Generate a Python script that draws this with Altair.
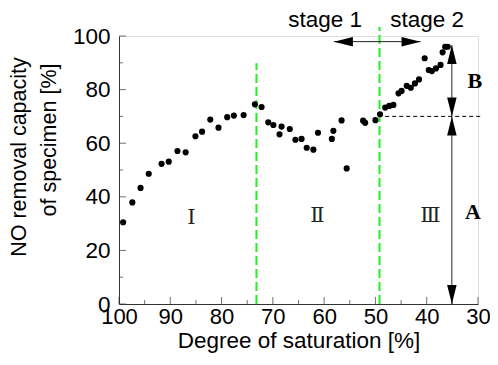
import altair as alt
import pandas as pd

# measured points
sat = [99.2, 97.4, 95.8, 94.2, 91.7, 90.3, 88.6, 87.0, 85.1, 83.8, 82.2, 80.6, 78.9, 77.6, 75.7,
       73.5, 72.2, 70.9, 69.9, 68.3, 68.7, 66.7, 65.6, 64.4, 63.4, 62.1, 61.2, 58.5, 58.2, 56.6,
       55.6, 52.4, 52.0, 50.0, 49.1, 48.1, 47.3, 46.5, 45.5, 44.9, 43.9, 43.1, 42.3, 41.5, 40.4,
       39.6, 39.0, 38.2, 37.3, 36.9, 36.4, 35.9]
no_removal = [30.5, 37.9, 43.3, 48.6, 52.3, 53.1, 57.1, 56.6, 62.6, 64.3, 68.8, 65.8, 69.7, 70.3, 70.5,
              74.5, 73.5, 67.8, 66.8, 66.2, 63.3, 65.3, 61.3, 61.6, 58.3, 57.6, 63.9, 61.6, 64.6, 68.5,
              50.6, 68.4, 67.6, 68.6, 70.8, 73.3, 73.9, 74.3, 78.6, 79.5, 81.4, 80.7, 82.3, 83.8, 91.7,
              87.3, 86.9, 87.9, 89.2, 93.9, 96.0, 96.0]

x_major = [100, 90, 80, 70, 60, 50, 40, 30]
x_minor = [95, 85, 75, 65, 55, 45, 35]
y_major = [0, 20, 40, 60, 80, 100]
y_minor = [10, 30, 50, 70, 90]

green_x = [73.2, 49.2]
green_top = [89.8, 103.4]

ref_level = [70]
ref_from = [48.1]
ref_to = [29.4]

arrow_x = [35.1]
arrow_bottom = [0]
arrow_top = [96.6]
stage_arrow_y = [97.9]
stage_arrow_from = [58.1]
stage_arrow_to = [41.2]

head_x = [35.1, 35.1, 35.1, 35.1, 58.1, 41.2]
head_y = [96.6, 70, 70, 0, 97.9, 97.9]
head_dir = ["up", "down", "up", "down", "left", "right"]

roman_txt = ["Ⅰ", "Ⅱ", "Ⅲ"]
roman_x = [85.9, 61.3, 39.3]
roman_y = [32.0, 32.8, 32.8]

ab_txt = ["A", "B"]
ab_x = [31.0, 30.6]
ab_y = [34.4, 83.2]

stage_txt = ["stage 1", "stage 2"]
stage_x = [59.8, 39.9]
stage_y = [103.2, 103.2]

FONT = "Liberation Sans"
xs = alt.Scale(domain=[100, 30], nice=False)
ys = alt.Scale(domain=[0, 100], nice=False)
xax = alt.Axis(values=x_major, tickSize=0, labelFontSize=22, labelFont=FONT, labelColor="black",
               labelPadding=2, domainColor="#333", grid=False, title="Degree of saturation [%]",
               titleFont=FONT, titleFontSize=22.5, titleFontWeight="normal", titleColor="black",
               titlePadding=2, labelFlush=False, labelOverlap=False)
yax = alt.Axis(values=y_major, tickSize=0, labelFontSize=22.5, labelFont=FONT, labelColor="black",
               labelPadding=9, domainColor="#333", grid=False, title=None, labelOverlap=False)


def X(f):
    return alt.X(f, type="quantitative", scale=xs, axis=xax)


def Y(f):
    return alt.Y(f, type="quantitative", scale=ys, axis=yax)


pts = alt.Chart(pd.DataFrame({"x": sat, "y": no_removal})).mark_circle(
    size=38, color="black", opacity=1).encode(x=X("x"), y=Y("y"))

green = alt.Chart(pd.DataFrame({"x": green_x, "y": [0, 0], "y2": green_top})).mark_rule(
    color="#22ee22", strokeWidth=2, strokeDash=[9, 4]).encode(x=X("x"), y=Y("y"), y2="y2")

refline = alt.Chart(pd.DataFrame({"x": ref_from, "x2": ref_to, "y": ref_level})).mark_rule(
    color="black", strokeWidth=1, strokeDash=[4, 3]).encode(x=X("x"), x2="x2", y=Y("y"))

vline = alt.Chart(pd.DataFrame({"x": arrow_x, "y": arrow_bottom, "y2": arrow_top})).mark_rule(
    color="#222", strokeWidth=1).encode(x=X("x"), y=Y("y"), y2="y2")

hline = alt.Chart(pd.DataFrame({"x": stage_arrow_from, "x2": stage_arrow_to, "y": stage_arrow_y})).mark_rule(
    color="#222", strokeWidth=1).encode(x=X("x"), x2="x2", y=Y("y"))

paths = {
    "up": "M0,0L0.25,1L-0.25,1Z",
    "down": "M0,0L0.25,-1L-0.25,-1Z",
    "left": "M0,0L1,0.25L1,-0.25Z",
    "right": "M0,0L-1,0.25L-1,-0.25Z",
}
heads = alt.Chart(pd.DataFrame({"x": head_x, "y": head_y, "d": head_dir})).mark_point(
    filled=True, size=1444, color="black", opacity=1, strokeWidth=0).encode(
    x=X("x"), y=Y("y"),
    shape=alt.Shape("d:N", scale=alt.Scale(domain=list(paths.keys()), range=list(paths.values())),
                    legend=None))

xt_major = alt.Chart(pd.DataFrame({"x": x_major})).mark_tick(
    orient="vertical", size=7, thickness=1, color="#333", yOffset=-3.5).encode(
    x=X("x"), y=alt.YDatum(0, scale=ys, axis=yax))
xt_minor = alt.Chart(pd.DataFrame({"x": x_minor})).mark_tick(
    orient="vertical", size=4, thickness=1, color="#333", yOffset=-2).encode(
    x=X("x"), y=alt.YDatum(0, scale=ys, axis=yax))
yt_major = alt.Chart(pd.DataFrame({"y": y_major})).mark_tick(
    orient="horizontal", size=7, thickness=1, color="#333", xOffset=3.5).encode(
    y=Y("y"), x=alt.XDatum(100, scale=xs, axis=xax))
yt_minor = alt.Chart(pd.DataFrame({"y": y_minor})).mark_tick(
    orient="horizontal", size=4, thickness=1, color="#333", xOffset=2).encode(
    y=Y("y"), x=alt.XDatum(100, scale=xs, axis=xax))

roman = alt.Chart(pd.DataFrame({"x": roman_x, "y": roman_y, "t": roman_txt})).mark_text(
    font="DejaVu Serif", fontSize=21, color="#222", baseline="middle").encode(
    x=X("x"), y=Y("y"), text="t:N")

ab = alt.Chart(pd.DataFrame({"x": ab_x, "y": ab_y, "t": ab_txt})).mark_text(
    font="Liberation Serif", fontSize=22, fontWeight="bold", color="black", baseline="middle").encode(
    x=X("x"), y=Y("y"), text="t:N")

stages = alt.Chart(pd.DataFrame({"x": stage_x, "y": stage_y, "t": stage_txt})).mark_text(
    font=FONT, fontSize=22.5, color="black", baseline="alphabetic").encode(
    x=X("x"), y=Y("y"), text="t:N")

ytitle1 = alt.Chart(pd.DataFrame({"t": ["NO removal capacity"]})).mark_text(
    font=FONT, fontSize=21.5, color="black", angle=270, baseline="middle", align="center").encode(
    x=alt.value(-99), y=alt.value(121), text="t:N")
ytitle2 = alt.Chart(pd.DataFrame({"t": ["of specimen [%]"]})).mark_text(
    font=FONT, fontSize=21.5, color="black", angle=270, baseline="middle", align="center").encode(
    x=alt.value(-69), y=alt.value(104), text="t:N")

chart = alt.layer(
    green, refline, vline, hline, heads, pts, xt_major, xt_minor, yt_major, yt_minor,
    roman, ab, stages, ytitle1, ytitle2
).properties(
    width=359, height=268, autosize="none",
    padding={"left": 111, "top": 28, "right": 12, "bottom": 50}
).configure_view(stroke=None).configure(background="white")

chart.save("out.html", embed_options={"renderer": "svg", "actions": False})
